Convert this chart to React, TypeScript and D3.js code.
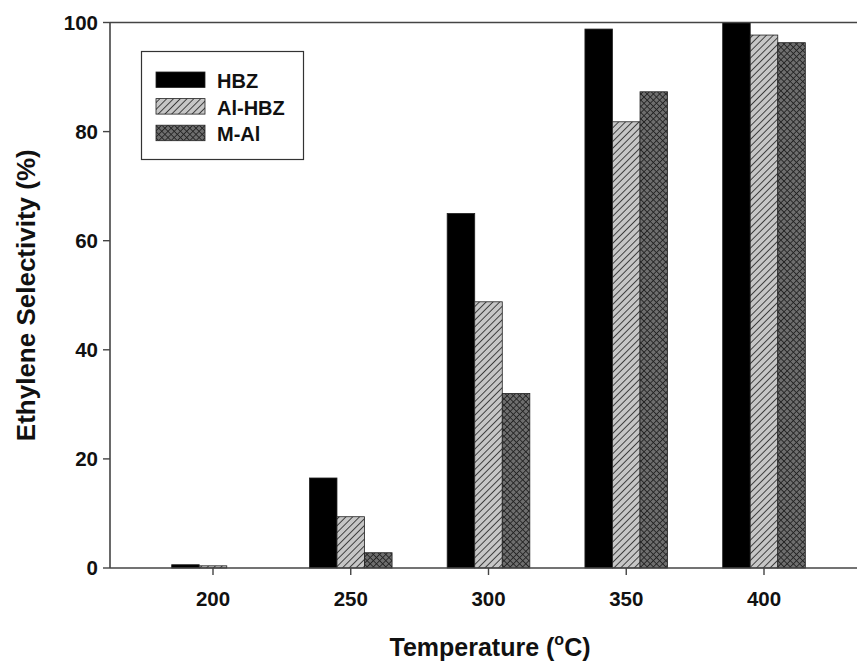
import React from "react";
import * as d3 from "d3";

const temperatures = [200, 250, 300, 350, 400];
const seriesNames = ["HBZ", "Al-HBZ", "M-Al"];
const hbz = [0.6, 16.5, 65.0, 98.8, 100];
const alHbz = [0.4, 9.4, 48.8, 81.8, 97.7];
const mAl = [0, 2.8, 32.0, 87.3, 96.3];
const yTicks = [0, 20, 40, 60, 80, 100];

const W = 857;
const H = 662;

export default function App() {
  const x = d3.scaleLinear().domain([200, 400]).range([213, 764]);
  const y = d3.scaleLinear().domain([0, 100]).range([568, 22.5]);
  const axisLeft = 110;
  const axisRight = 857;
  const barW = 10;
  const series = [hbz, alHbz, mAl];
  const fills = ["#000", "url(#hatch)", "url(#cross)"];
  const font = "Arial, 'Liberation Sans', Helvetica, sans-serif";

  return (
    <svg width={W} height={H} style={{ position: "absolute", left: 0, top: 0, background: "#fff" }}>
      <defs>
        <pattern id="hatch" patternUnits="userSpaceOnUse" width="4.8" height="4.8" patternTransform="rotate(45)">
          <rect width="4.8" height="4.8" fill="#c6c6c6" />
          <line x1="0" y1="-1" x2="0" y2="5.8" stroke="#2a2a2a" strokeWidth="1.7" />
        </pattern>
        <pattern id="cross" patternUnits="userSpaceOnUse" width="4.4" height="4.4" patternTransform="rotate(45)">
          <rect width="4.4" height="4.4" fill="#6e6e6e" />
          <line x1="0" y1="-1" x2="0" y2="5.4" stroke="#222" strokeWidth="1.7" />
          <line x1="-1" y1="0" x2="5.4" y2="0" stroke="#222" strokeWidth="1.7" />
        </pattern>
      </defs>

      {/* bars */}
      {temperatures.map((t, i) =>
        series.map((s, j) => {
          const v = s[i];
          if (v <= 0) return null;
          const x0 = x(t - 1.5 * barW + j * barW);
          const x1 = x(t - 1.5 * barW + (j + 1) * barW);
          return (
            <rect
              key={`${i}-${j}`}
              x={x0}
              y={y(v)}
              width={x1 - x0}
              height={y(0) - y(v)}
              fill={fills[j]}
              stroke="#222"
              strokeWidth={0.8}
            />
          );
        })
      )}

      {/* axes */}
      <line x1={axisLeft} y1={y(0)} x2={axisRight} y2={y(0)} stroke="#444" strokeWidth={1.6} />
      <line x1={axisLeft} y1={y(100)} x2={axisRight} y2={y(100)} stroke="#444" strokeWidth={1.6} />
      <line x1={axisLeft} y1={y(0)} x2={axisLeft} y2={y(100)} stroke="#444" strokeWidth={1.6} />

      {yTicks.map((v) => (
        <g key={v}>
          <line x1={axisLeft - 7} y1={y(v)} x2={axisLeft} y2={y(v)} stroke="#444" strokeWidth={1.4} />
          <text x={98} y={y(v)} dy="0.36em" textAnchor="end" fontFamily={font} fontWeight="bold" fontSize={20.5} fill="#111">
            {v}
          </text>
        </g>
      ))}

      {temperatures.map((t) => (
        <g key={t}>
          <line x1={x(t)} y1={y(0)} x2={x(t)} y2={y(0) + 7} stroke="#444" strokeWidth={1.4} />
          <text x={x(t)} y={605.5} textAnchor="middle" fontFamily={font} fontWeight="bold" fontSize={20.5} fill="#111">
            {t}
          </text>
        </g>
      ))}

      {/* axis titles */}
      <text
        transform={`translate(35, ${y(50)}) rotate(-90)`}
        textAnchor="middle"
        fontFamily={font}
        fontWeight="bold"
        fontSize={26}
        fill="#111"
      >
        Ethylene Selectivity (%)
      </text>
      <text x={490} y={656} textAnchor="middle" fontFamily={font} fontWeight="bold" fontSize={25} fill="#111">
        Temperature (
        <tspan fontSize={16} dy={-11}>o</tspan>
        <tspan dy={11}>C)</tspan>
      </text>

      {/* legend */}
      <rect x={141.5} y={51.5} width={162} height={108} fill="#fff" stroke="#333" strokeWidth={1.2} />
      {seriesNames.map((name, j) => (
        <g key={name}>
          <rect x={156} y={72 + j * 26.6} width={49} height={15.5} fill={fills[j]} stroke="#222" strokeWidth={0.8} />
          <text x={217} y={80.5 + j * 26.8} dy="0.36em" fontFamily={font} fontWeight="bold" fontSize={20} fill="#111">
            {name}
          </text>
        </g>
      ))}
    </svg>
  );
}
